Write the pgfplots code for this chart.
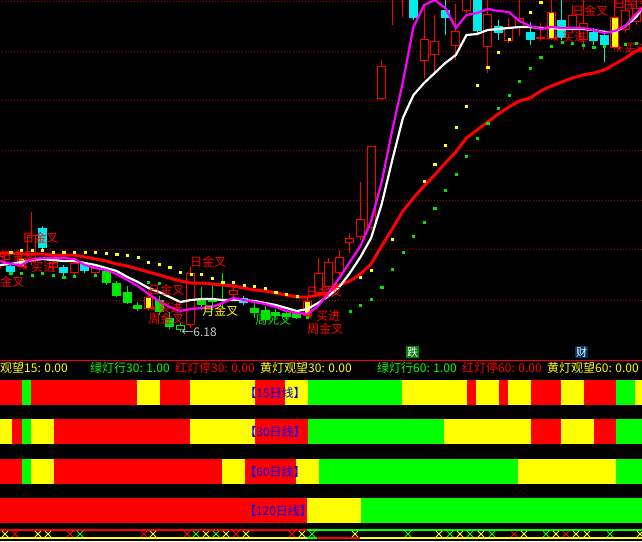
\documentclass[border=0pt]{standalone}
\usepackage{pgfplots}
\usepackage{pgfplotstable}
\pgfplotsset{compat=1.18}
\usepackage{fontspec}
\setmainfont{Noto Sans CJK SC}
\newfontfamily\symfont{DejaVu Sans}
\definecolor{kred}{RGB}{255,0,0}
\definecolor{kcyan}{RGB}{0,235,235}
\definecolor{kgreen}{RGB}{0,230,0}
\definecolor{bgreen}{RGB}{0,255,0}
\definecolor{kyellow}{RGB}{255,255,0}
\definecolor{kmag}{RGB}{255,0,255}
\definecolor{kgrid}{RGB}{170,0,0}
\definecolor{kblue}{RGB}{0,0,255}
\definecolor{kgray}{RGB}{200,200,200}
\definecolor{dgreen}{RGB}{0,128,0}
\definecolor{dblue}{RGB}{0,51,102}
\newcommand{\lblfont}{\fontsize{12pt}{12pt}\selectfont}
\tikzset{lbl/.style={anchor=west, inner sep=0pt, font=\lblfont},
  starn/.style={anchor=center, inner sep=0pt, text=kred, font=\symfont\fontsize{9pt}{9pt}\selectfont}}
\pgfplotsset{seg/.style={line width=25pt, forget plot},
  xmark/.style={only marks, mark=x, mark size=4.4pt, line width=1pt, forget plot}}

% candles: open high low close (price)
\pgfplotstableread{
i o h l c
0 6.85 6.98 6.82 6.94
3 6.88 7.38 6.85 7.15
5 6.82 6.92 6.78 6.88
7 6.77 6.89 6.72 6.87
9 6.77 6.84 6.75 6.82
18 6.25 6.84 6.22 6.77
22 6.55 6.68 6.53 6.60
30 6.57 6.92 6.54 6.77
31 6.63 6.92 6.61 6.88
32 6.77 7.00 6.75 6.93
33 7.07 7.17 6.97 7.12
34 7.13 7.68 7.10 7.31
35 7.22 8.04 7.20 8.04
36 8.51 8.90 8.50 8.84
37 9.55 9.90 9.25 9.80
38 9.55 9.90 9.33 9.80
40 8.89 9.45 8.72 9.11
41 8.95 9.35 8.78 9.09
43 9.04 9.46 8.90 9.19
44 9.39 9.80 9.37 9.70
46 9.03 9.55 8.77 9.36
48 9.09 9.32 9.07 9.23
49 9.22 9.52 9.14 9.32
51 9.11 9.27 9.09 9.13
54 9.20 9.45 9.18 9.35
55 9.10 9.55 9.00 9.27
59 9.20 9.50 9.17 9.40
60 9.28 9.55 9.25 9.42
}\tRed
\pgfplotstableread{
i o h l c
2 6.83 6.95 6.82 6.92
14 6.41 6.60 6.39 6.53
29 6.34 6.52 6.32 6.49
52 9.11 9.55 9.10 9.38
58 9.02 9.55 9.00 9.33
}\tYel
\pgfplotstableread{
i o h l c
1 6.84 6.87 6.76 6.78
4 7.22 7.24 6.98 7.02
6 6.83 6.85 6.74 6.77
8 6.86 6.88 6.77 6.79
23 6.52 6.54 6.45 6.47
39 9.70 9.80 9.30 9.32
42 9.40 9.50 9.15 9.32
45 9.55 9.60 9.17 9.19
47 9.24 9.30 9.10 9.17
50 9.18 9.28 9.05 9.10
53 9.30 9.55 9.10 9.12
56 9.18 9.22 9.05 9.09
57 9.15 9.20 8.88 9.05
}\tCyan
\pgfplotstableread{
i o h l c
10 6.79 6.80 6.65 6.67
11 6.67 6.69 6.53 6.54
12 6.58 6.64 6.46 6.47
13 6.45 6.48 6.39 6.41
15 6.50 6.54 6.35 6.38
16 6.32 6.38 6.21 6.23
19 6.51 6.63 6.40 6.45
20 6.51 6.67 6.40 6.48
21 6.51 6.77 6.43 6.49
24 6.42 6.47 6.32 6.37
25 6.40 6.44 6.28 6.30
26 6.38 6.41 6.32 6.34
27 6.37 6.40 6.31 6.33
28 6.37 6.39 6.31 6.32
}\tGreen
\pgfplotstableread{
i o h l c
17 6.20 6.27 6.18 6.25
}\tGreenH
% moving averages: white, magenta, red
\pgfplotstableread{
i w m r
0 6.85 6.89 6.97
1 6.86 6.86 6.97
2 6.88 6.85 6.96
3 6.90 6.91 6.96
4 6.91 6.92 6.96
5 6.90 6.92 6.95
6 6.89 6.92 6.95
7 6.89 6.91 6.95
8 6.87 6.85 6.93
9 6.85 6.82 6.91
10 6.82 6.80 6.89
11 6.79 6.76 6.86
12 6.73 6.70 6.84
13 6.68 6.64 6.81
14 6.62 6.56 6.78
15 6.58 6.49 6.75
16 6.53 6.43 6.72
17 6.48 6.39 6.69
18 6.50 6.41 6.67
19 6.51 6.42 6.67
20 6.51 6.43 6.66
21 6.50 6.47 6.65
22 6.50 6.52 6.64
23 6.50 6.50 6.62
24 6.49 6.48 6.60
25 6.47 6.46 6.59
26 6.45 6.43 6.57
27 6.42 6.39 6.55
28 6.39 6.37 6.53
29 6.41 6.36 6.53
30 6.47 6.44 6.55
31 6.54 6.57 6.57
32 6.63 6.72 6.65
33 6.77 6.88 6.69
34 6.93 7.04 6.76
35 7.12 7.29 6.86
36 7.46 7.68 7.04
37 7.90 8.20 7.21
38 8.32 8.68 7.39
39 8.55 9.23 7.52
40 8.67 9.45 7.64
41 8.77 9.50 7.75
42 8.87 9.42 7.87
43 8.95 9.22 7.98
44 9.15 9.35 8.12
45 9.16 9.37 8.20
46 9.20 9.41 8.28
47 9.21 9.39 8.36
48 9.22 9.38 8.43
49 9.23 9.29 8.49
50 9.23 9.24 8.52
51 9.22 9.21 8.59
52 9.22 9.23 8.64
53 9.21 9.22 8.68
54 9.21 9.22 8.72
55 9.21 9.22 8.75
56 9.20 9.20 8.77
57 9.18 9.17 8.80
58 9.18 9.19 8.86
59 9.24 9.24 8.92
60 9.33 9.36 8.99
60.6 9.42 9.42 9.02
}\tMA
\pgfplotstableread{
i p
1 6.98
2 7.00
3 7.00
4 7.00
5 6.98
6 6.98
7 6.98
8 6.98
9 6.98
10 6.97
11 6.96
12 6.95
13 6.93
14 6.88
15 6.86
16 6.83
17 6.78
18 6.76
19 6.76
20 6.72
21 6.68
22 6.68
23 6.65
24 6.64
25 6.62
26 6.58
27 6.56
28 6.54
34 6.73
35 6.80
37 7.11
40 7.69
41 7.86
42 8.05
43 8.23
44 8.44
45 8.65
46 8.83
47 8.98
48 9.11
50 9.38
51 9.48
}\tYdot
\pgfplotstableread{
i p
1 6.77
2 6.77
3 6.75
4 6.77
5 6.75
6 6.73
7 6.74
9 6.75
14 6.68
15 6.67
29 6.33
33 6.39
34 6.45
35 6.51
36 6.63
37 6.81
38 6.98
39 7.14
40 7.28
41 7.42
42 7.60
43 7.76
44 7.94
45 8.12
46 8.27
47 8.42
48 8.55
49 8.69
50 8.82
51 8.93
52 9.04
53 9.08
54 9.07
55 9.05
56 9.03
57 9.04
59 9.06
60 9.07
}\tGdot

% wick: a vertical segment from low to high
\newcommand{\wicks}[2]{\addplot[#2, line width=1pt, forget plot,
  quiver={u=0, v=\thisrow{h}-\thisrow{l}}]
  table[x=i, y=l] {#1};}
% body: table, colour, width, inset, minimum height
\newcommand{\bodies}[5]{\addplot[#2, line width=#3, forget plot,
  quiver={u=0, v={max(abs(\thisrow{c}-\thisrow{o})-2*#4,#5)}}]
  table[x=i, y expr={min(\thisrow{o},\thisrow{c})+#4}] {#1};}

\begin{document}
\begin{tikzpicture}[x=1pt,y=1pt]
\useasboundingbox (0,0) rectangle (642,-541);
\clip (0,0) rectangle (642,-541);
\fill[black] (0,0) rectangle (642,-541);

\begin{axis}[at={(0,0)}, anchor=north west, width=642pt, height=350pt, scale only axis,
  xmin=-0.01, xmax=60.56, ymin=6.00, ymax=9.50, hide axis, clip=true]
% dotted grid
\foreach \g in {9.49,8.99,8.50,8.00,7.50,7.01,6.50}{
  \edef\tmp{\noexpand\addplot[kgrid, line width=1pt, dash pattern=on 1pt off 2pt, forget plot] coordinates {(-1,\g)(62,\g)};}\tmp
}
% wicks
\wicks{\tRed}{kred}
\wicks{\tYel}{kred}
\wicks{\tCyan}{kcyan}
\wicks{\tGreen}{kgreen}
\wicks{\tGreenH}{kgreen}
% bodies
\bodies{\tRed}{kred}{9pt}{0}{0.01}
\bodies{\tRed}{black}{7pt}{0.01}{0}
\bodies{\tYel}{kred}{9pt}{0}{0.01}
\bodies{\tYel}{black}{7pt}{0.01}{0}
\bodies{\tYel}{kyellow}{5.5pt}{0.01}{0}
\bodies{\tCyan}{kcyan}{9pt}{0}{0.01}
\bodies{\tGreen}{kgreen}{9pt}{0}{0.01}
\bodies{\tGreenH}{kgreen}{9pt}{0}{0.01}
\bodies{\tGreenH}{black}{7pt}{0.01}{0}
% moving averages
\addplot[kred, line width=3pt] table[x=i, y=r] {\tMA};
\addplot[white, line width=2.2pt] table[x=i, y=w] {\tMA};
\addplot[kmag, line width=2.2pt] table[x=i, y=m] {\tMA};
% dots
\addplot[only marks, mark=square*, mark size=1.1pt, kyellow] table[x=i, y=p] {\tYdot};
\addplot[only marks, mark=square*, mark size=1.1pt, kgreen] table[x=i, y=p] {\tGdot};
% signal labels
\node[lbl, text=kred] at (axis cs:0.00,6.94) {日金叉};
\node[lbl, text=kred] at (axis cs:2.08,7.12) {日金叉};
\node[starn] at (axis cs:2.36,6.83) {★};
\node[lbl, text=kred] at (axis cs:2.92,6.83) {买进};
\node[lbl, text=kred] at (axis cs:-1.13,6.68) {周金叉};
\node[lbl, text=kred] at (axis cs:17.92,6.88) {日金叉};
\node[lbl, text=kred] at (axis cs:13.96,6.60) {日金叉};
\node[starn] at (axis cs:14.43,6.42) {★};
\node[lbl, text=kred] at (axis cs:14.91,6.42) {买进};
\node[lbl, text=kred] at (axis cs:13.96,6.31) {周金叉};
\node[lbl, text=kyellow] at (axis cs:19.06,6.39) {月金叉};
\node[lbl, text=kgreen] at (axis cs:24.06,6.30) {周死叉};
\node[lbl, text=kgray] at (axis cs:17.08,6.18) {←6.18};
\node[lbl, text=kred] at (axis cs:28.87,6.58) {日金叉};
\node[starn] at (axis cs:29.15,6.34) {★};
\node[lbl, text=kred] at (axis cs:29.81,6.34) {买进};
\node[lbl, text=kred] at (axis cs:28.96,6.21) {周金叉};
\node[lbl, text=kred] at (axis cs:53.96,9.39) {日金叉};
\node[starn] at (axis cs:52.45,9.12) {★};
\node[lbl, text=kred] at (axis cs:53.02,9.13) {买进};
\node[lbl, text=kred] at (axis cs:57.83,9.46) {日金叉};
\node[starn] at (axis cs:58.40,9.02) {★};
\node[lbl, text=kred] at (axis cs:58.87,9.02) {买进};
\end{axis}

% lower panel: y = 541 - pixel row
\begin{axis}[at={(0,-541)}, anchor=south west, width=642pt, height=201pt, scale only axis,
  xmin=0, xmax=642, ymin=0, ymax=201, hide axis, clip=false]
\addplot[kred, line width=1pt, forget plot] coordinates {(0,181)(642,181)};
% 15 day row
\addplot[seg, kred] coordinates {(0,148.5)(21.7,148.5)};
\addplot[seg, bgreen] coordinates {(21.7,148.5)(31.1,148.5)};
\addplot[seg, kred] coordinates {(31.1,148.5)(137.2,148.5)};
\addplot[seg, kyellow] coordinates {(137.2,148.5)(160.1,148.5)};
\addplot[seg, kred] coordinates {(160.1,148.5)(190,148.5)};
\addplot[seg, kyellow] coordinates {(190,148.5)(255,148.5)};
\addplot[seg, kred] coordinates {(255,148.5)(285,148.5)};
\addplot[seg, kyellow] coordinates {(285,148.5)(308,148.5)};
\addplot[seg, bgreen] coordinates {(308,148.5)(402,148.5)};
\addplot[seg, kyellow] coordinates {(402,148.5)(467,148.5)};
\addplot[seg, kred] coordinates {(467,148.5)(476,148.5)};
\addplot[seg, kyellow] coordinates {(476,148.5)(499,148.5)};
\addplot[seg, kred] coordinates {(499,148.5)(508,148.5)};
\addplot[seg, kyellow] coordinates {(508,148.5)(531,148.5)};
\addplot[seg, kred] coordinates {(531,148.5)(561,148.5)};
\addplot[seg, kyellow] coordinates {(561,148.5)(584,148.5)};
\addplot[seg, kred] coordinates {(584,148.5)(616,148.5)};
\addplot[seg, bgreen] coordinates {(616,148.5)(635,148.5)};
\addplot[seg, kyellow] coordinates {(635,148.5)(642,148.5)};
% 30 day row
\addplot[seg, kyellow] coordinates {(0,109.5)(12,109.5)};
\addplot[seg, kred] coordinates {(12,109.5)(21.7,109.5)};
\addplot[seg, bgreen] coordinates {(21.7,109.5)(31.1,109.5)};
\addplot[seg, kyellow] coordinates {(31.1,109.5)(54,109.5)};
\addplot[seg, kred] coordinates {(54,109.5)(190,109.5)};
\addplot[seg, kyellow] coordinates {(190,109.5)(255,109.5)};
\addplot[seg, kred] coordinates {(255,109.5)(308,109.5)};
\addplot[seg, bgreen] coordinates {(308,109.5)(444,109.5)};
\addplot[seg, kyellow] coordinates {(444,109.5)(531,109.5)};
\addplot[seg, kred] coordinates {(531,109.5)(561,109.5)};
\addplot[seg, kyellow] coordinates {(561,109.5)(594,109.5)};
\addplot[seg, kred] coordinates {(594,109.5)(616,109.5)};
\addplot[seg, bgreen] coordinates {(616,109.5)(642,109.5)};
% 60 day row
\addplot[seg, kred] coordinates {(0,69.5)(21.7,69.5)};
\addplot[seg, bgreen] coordinates {(21.7,69.5)(31.1,69.5)};
\addplot[seg, kyellow] coordinates {(31.1,69.5)(54,69.5)};
\addplot[seg, kred] coordinates {(54,69.5)(222,69.5)};
\addplot[seg, kyellow] coordinates {(222,69.5)(245,69.5)};
\addplot[seg, kred] coordinates {(245,69.5)(296,69.5)};
\addplot[seg, kyellow] coordinates {(296,69.5)(319,69.5)};
\addplot[seg, bgreen] coordinates {(319,69.5)(518,69.5)};
\addplot[seg, kyellow] coordinates {(518,69.5)(616,69.5)};
\addplot[seg, bgreen] coordinates {(616,69.5)(642,69.5)};
% 120 day row
\addplot[seg, kred] coordinates {(0,30.5)(307,30.5)};
\addplot[seg, kyellow] coordinates {(307,30.5)(361,30.5)};
\addplot[seg, bgreen] coordinates {(361,30.5)(642,30.5)};
% bottom lines
\addplot[kred, line width=1.5pt, forget plot] coordinates {(0,11)(307,11)};
\addplot[bgreen, line width=1.5pt, forget plot] coordinates {(307,11)(642,11)};
\addplot[kyellow, line width=1.5pt, forget plot] coordinates {(0,3)(307,3)};
\addplot[bgreen, line width=1.5pt, forget plot] coordinates {(307,3)(317,3)};
\addplot[kred, line width=1.5pt, forget plot] coordinates {(317,3)(360,3)};
\addplot[kyellow, line width=1.5pt, forget plot] coordinates {(360,3)(642,3)};
% crosses
\addplot[xmark, kyellow] coordinates {
 (5,7)(38,7)(48,7)(153,7)(206,7)(226,7)(246,7)(302,7)(355,7)
 (439,7)(460,7)(481,7)(524,7)(556,7)(576,7)(587,7)(640,7)};
\addplot[xmark, bgreen] coordinates {
 (80,7)(196,7)(216,7)(312,7)(408,7)(450,7)(470,7)(492,7)(546,7)(610,7)};
\addplot[xmark, kred] coordinates {
 (15,7)(70,7)(144,7)(187,7)(236,7)(292,7)(514,7)(566,7)};
% row labels
\node[text=kblue, inner sep=0pt, font=\lblfont] at (axis cs:275,148.5) {【15日线】};
\node[text=kblue, inner sep=0pt, font=\lblfont] at (axis cs:275,109.5) {【30日线】};
\node[text=kblue, inner sep=0pt, font=\lblfont] at (axis cs:275,69.5) {【60日线】};
\node[text=kblue, inner sep=0pt, font=\lblfont] at (axis cs:278,30.5) {【120日线】};
% status texts
\node[lbl, text=kyellow] at (axis cs:-24,173) {黄灯观望15: 0.00};
\node[lbl, text=bgreen] at (axis cs:90,173) {绿灯行30: 1.00};
\node[lbl, text=kred] at (axis cs:175,173) {红灯停30: 0.00};
\node[lbl, text=kyellow] at (axis cs:260,173) {黄灯观望30: 0.00};
\node[lbl, text=bgreen] at (axis cs:377,173) {绿灯行60: 1.00};
\node[lbl, text=kred] at (axis cs:462,173) {红灯停60: 0.00};
\node[lbl, text=kyellow] at (axis cs:547,173) {黄灯观望60: 0.00};
\node[fill=dgreen, text=white, inner sep=1pt, font=\fontsize{11pt}{11pt}\selectfont] at (axis cs:412.5,189) {跌};
\node[fill=dblue, text=white, inner sep=1pt, font=\fontsize{11pt}{11pt}\selectfont] at (axis cs:581.5,189) {财};
\end{axis}
\end{tikzpicture}
\end{document}
